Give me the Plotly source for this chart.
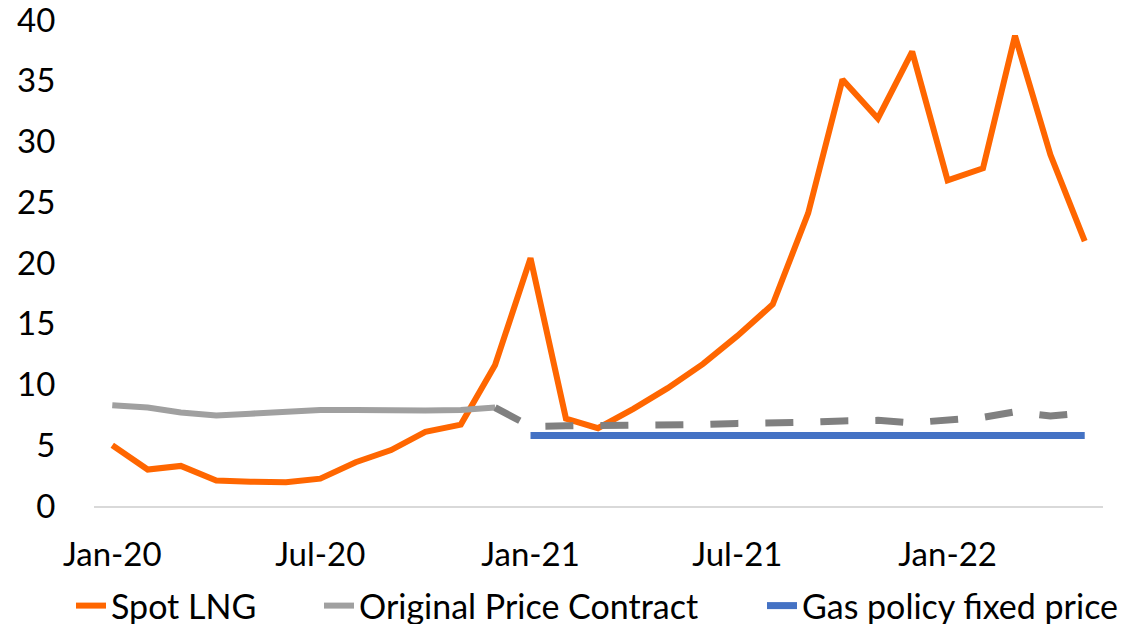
import plotly.graph_objects as go

# ---- data ----
months = [
    "2020-01-01", "2020-02-01", "2020-03-01", "2020-04-01", "2020-05-01", "2020-06-01",
    "2020-07-01", "2020-08-01", "2020-09-01", "2020-10-01", "2020-11-01", "2020-12-01",
    "2021-01-01", "2021-02-01", "2021-03-01", "2021-04-01", "2021-05-01", "2021-06-01",
    "2021-07-01", "2021-08-01", "2021-09-01", "2021-10-01", "2021-11-01", "2021-12-01",
    "2022-01-01", "2022-02-01", "2022-03-01", "2022-04-01", "2022-05-01",
]

spot_lng = [5.0, 3.0, 3.3, 2.1, 2.0, 1.95, 2.25, 3.6, 4.6, 6.1, 6.7, 11.6,
            20.4, 7.2, 6.4, 8.0, 9.7, 11.7, 14.0, 16.6, 24.1, 35.1, 31.9, 37.4,
            26.8, 27.8, 38.7, 28.9, 21.8]

# Original price contract: actual (solid) Jan-20..Dec-20
orig_months = months[:12]
orig_contract = [8.3, 8.1, 7.7, 7.45, 7.6, 7.8, 7.9, 7.9, 7.85, 7.85, 7.9, 8.1]

# Original price contract: projected (dashed) Dec-20..May-22
proj_months = months[11:]
orig_projected = [8.1, 6.55, 6.6, 6.6, 6.6, 6.65, 6.7, 6.8, 6.8, 6.9, 7.0, 7.05,
                  6.85, 7.1, 7.3, 7.75, 7.4, 7.65]

# Gas policy fixed price Jan-21..May-22
fixed_months = months[12:]
fixed_price = [5.8] * len(fixed_months)

x_tickvals = ["2020-01-01", "2020-07-01", "2021-01-01", "2021-07-01", "2022-01-01"]
x_ticktext = ["Jan-20", "Jul-20", "Jan-21", "Jul-21", "Jan-22"]
y_tickvals = [0, 5, 10, 15, 20, 25, 30, 35, 40]

# ---- styling ----
FONT = "Lato, Carlito, Calibri, sans-serif"
ORANGE = "#FF6600"
GREY = "#A0A0A0"
DARKGREY = "#808080"
BLUE = "#4472C4"

fig = go.Figure()
fig.add_trace(go.Scatter(x=months, y=spot_lng, mode="lines", name="Spot LNG",
                         line=dict(color=ORANGE, width=6), legend="legend"))
fig.add_trace(go.Scatter(x=orig_months, y=orig_contract, mode="lines",
                         name="Original Price Contract",
                         line=dict(color=GREY, width=6), legend="legend2"))
fig.add_trace(go.Scatter(x=proj_months, y=orig_projected, mode="lines",
                         name="Original Price Contract (projected)", showlegend=False,
                         line=dict(color=DARKGREY, width=7, dash="28px,27px")))
fig.add_trace(go.Scatter(x=fixed_months, y=fixed_price, mode="lines",
                         name="Gas policy fixed price",
                         line=dict(color=BLUE, width=7), legend="legend3"))

# page body has an 8px margin, so the figure is laid out 8px up/left
OFF = 8
W, H = 1127 - OFF, 624 - OFF
PLOT_L, PLOT_R, PLOT_T, PLOT_B = 94, 1103, 20, 506   # target page pixels
ml = PLOT_L - OFF
mr = W - (PLOT_R - OFF)
mt = PLOT_T - OFF
mb = H - (PLOT_B - OFF)
pw = W - ml - mr
ph = H - mt - mb


def px_x(p):
    return (p - OFF - ml) / pw


def px_y(p):
    return (H - mb - (p - OFF)) / ph


legend_common = dict(orientation="h", yanchor="middle", xanchor="left",
                     y=px_y(606), font=dict(family=FONT, size=34, color="#000000"),
                     bgcolor="rgba(0,0,0,0)", borderwidth=0, itemwidth=30,
                     tracegroupgap=0)

fig.update_layout(
    width=W, height=H,
    margin=dict(l=ml, r=mr, t=mt, b=mb, autoexpand=False),
    paper_bgcolor="white", plot_bgcolor="white",
    font=dict(family=FONT, size=33, color="#000000"),
    showlegend=True,
    legend=dict(x=px_x(71), **legend_common),
    legend2=dict(x=px_x(319), **legend_common),
    legend3=dict(x=px_x(762), **legend_common),
    xaxis=dict(
        type="date",
        range=["2019-12-16", "2022-05-17"],
        tickvals=x_tickvals, ticktext=x_ticktext,
        showgrid=False, zeroline=False,
        showline=True, linecolor="#D9D9D9", linewidth=1.5,
        ticks="", ticklabelstandoff=19, ticklabeloverflow="allow",
        tickfont=dict(family=FONT, size=33, color="#000000"),
        automargin=False,
    ),
    yaxis=dict(
        range=[0, 40], tickvals=y_tickvals,
        showgrid=False, zeroline=False, showline=False,
        ticks="outside", ticklen=31, tickcolor="rgba(255,255,255,0)",
        ticklabeloverflow="allow",
        tickfont=dict(family=FONT, size=33, color="#000000"),
        automargin=False,
    ),
)

fig.write_html("out.html")
